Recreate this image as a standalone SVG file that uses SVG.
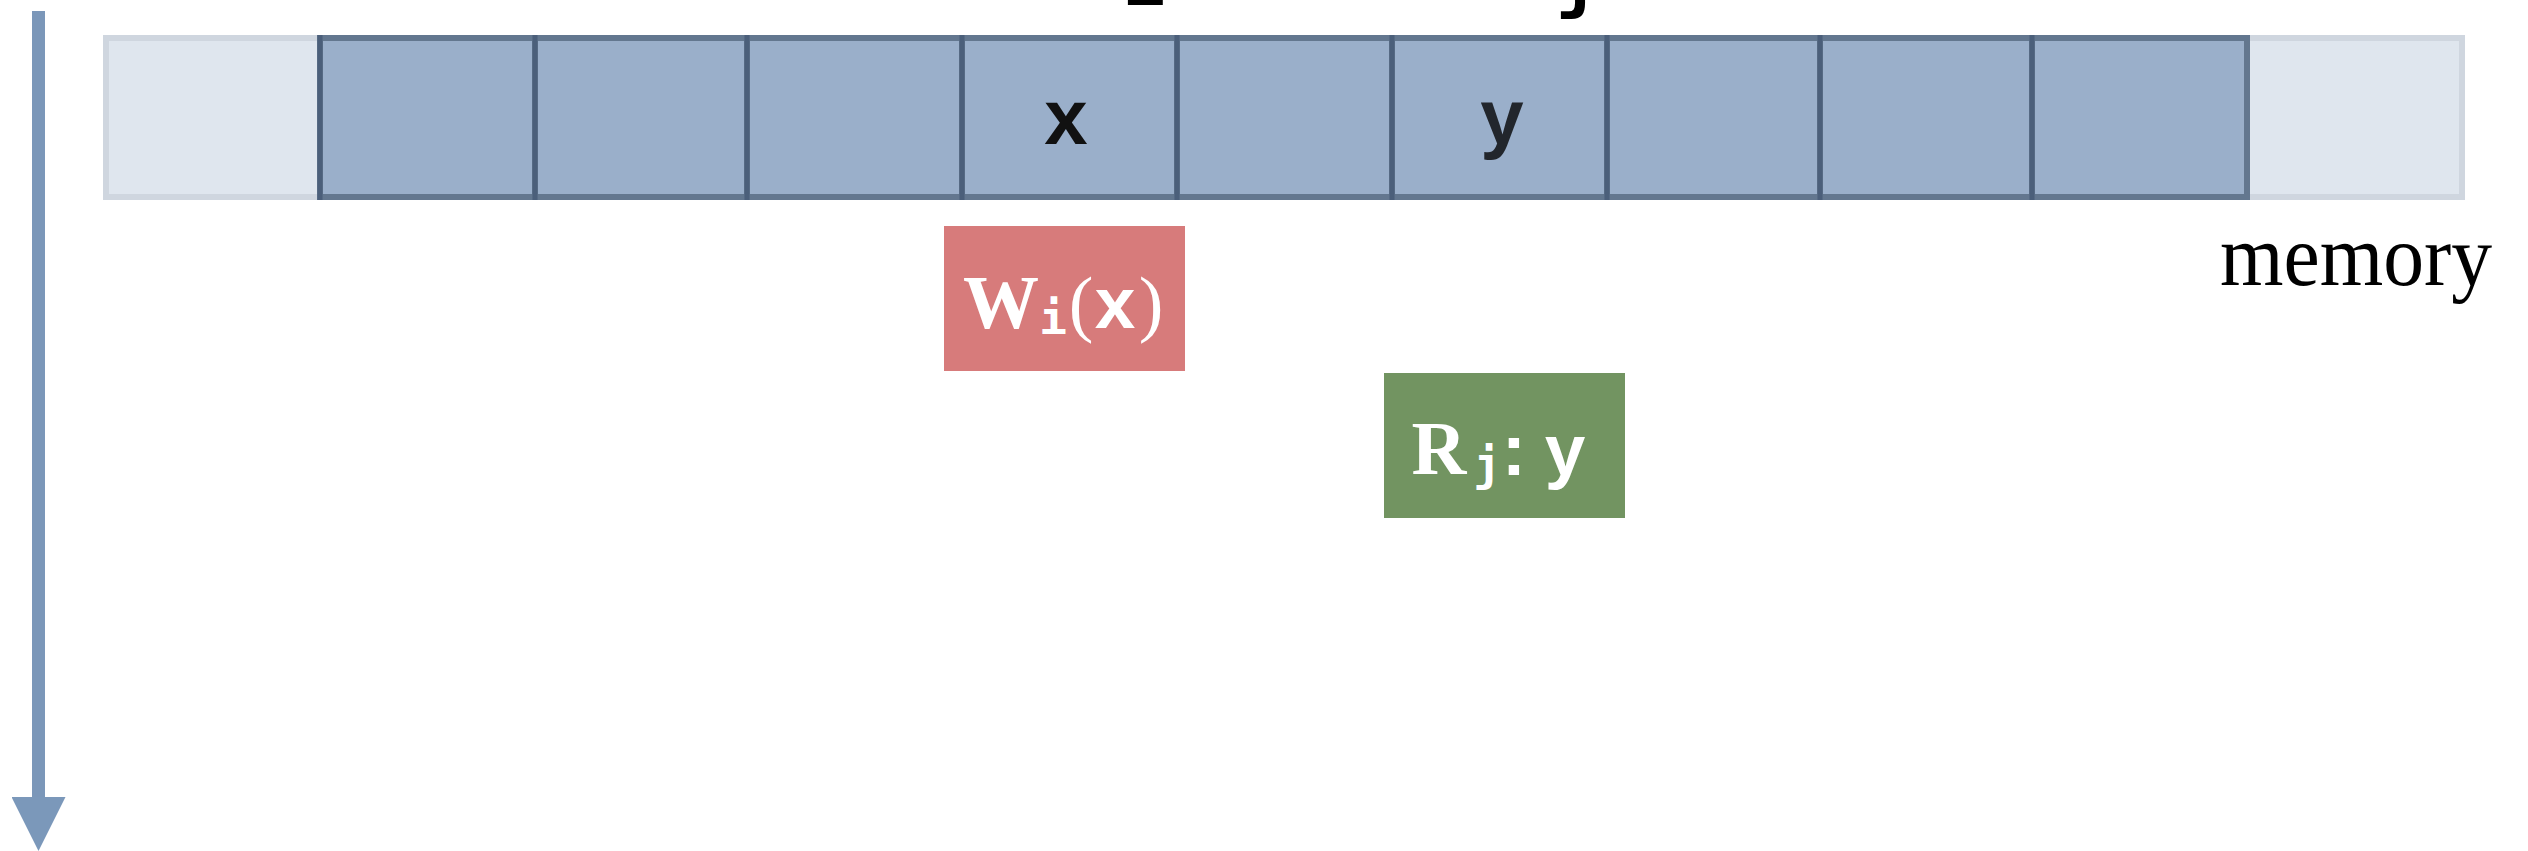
<svg xmlns="http://www.w3.org/2000/svg" width="2528" height="851" viewBox="0 0 2528 851">
  <style>
    .cell-light { fill: #dfe6ee; stroke: #cfd6df; stroke-width: 6; }
    .cell { fill: #9aafca; stroke: #63778f; stroke-width: 6; }
    .div { stroke: #4b5f7a; stroke-width: 5; }
    .cellText { font-family: "Liberation Sans", Arial, sans-serif; font-weight: bold; font-size: 78px; text-anchor: middle; }
    .serif { font-family: "Liberation Serif", "Times New Roman", serif; }
    .serifB { font-family: "Liberation Serif", "Times New Roman", serif; font-weight: bold; }
    .mono { font-family: "DejaVu Sans Mono", "Liberation Mono", monospace; font-weight: bold; }
    .sans { font-family: "Liberation Sans", Arial, sans-serif; font-weight: bold; }
    .label { fill: #ffffff; text-anchor: middle; }
  </style>
  <defs>
    <marker id="arrowHead" markerUnits="userSpaceOnUse" markerWidth="54" markerHeight="54" refX="0" refY="27" orient="auto">
      <path d="M0,0 L54,27 L0,54 Z" fill="#7b98ba"/>
    </marker>
  </defs>
  <rect width="2528" height="851" fill="#ffffff"/>

  <!-- cut-off labels at the top edge (as in the reference) -->
  <g id="top-fragments">
    <text x="1144" y="5" class="mono" font-size="70" text-anchor="middle" fill="#000">i</text>
    <text x="1577" y="5" class="mono" font-size="70" text-anchor="middle" fill="#000">j</text>
  </g>

  <g id="connectors">
    <line x1="38.5" y1="11" x2="38.5" y2="797" stroke="#7b97b9" stroke-width="13" marker-end="url(#arrowHead)"/>
  </g>

  <g id="memory">
    <g id="cell-0"><rect class="cell-light" x="106" y="38" width="214" height="159"/></g>
    <g id="cell-10"><rect class="cell-light" x="2247" y="38" width="215" height="159"/></g>
    <g id="cell-1"><rect class="cell" x="320" y="38" width="215" height="159"/></g>
    <g id="cell-2"><rect class="cell" x="535" y="38" width="212" height="159"/></g>
    <g id="cell-3"><rect class="cell" x="747" y="38" width="215" height="159"/></g>
    <g id="cell-4"><rect class="cell" x="962" y="38" width="215" height="159"/>
      <text class="cellText" x="1066" y="144" fill="#111111">x</text></g>
    <g id="cell-5"><rect class="cell" x="1177" y="38" width="215" height="159"/></g>
    <g id="cell-6"><rect class="cell" x="1392" y="38" width="215" height="159"/>
      <text class="cellText" x="1502" y="144" fill="#22262c">y</text></g>
    <g id="cell-7"><rect class="cell" x="1607" y="38" width="213" height="159"/></g>
    <g id="cell-8"><rect class="cell" x="1820" y="38" width="212" height="159"/></g>
    <g id="cell-9"><rect class="cell" x="2032" y="38" width="215" height="159"/></g>
    <g id="dividers">
      <line class="div" x1="320" y1="35" x2="320" y2="200"/>
      <line class="div" x1="535" y1="35" x2="535" y2="200"/>
      <line class="div" x1="747" y1="35" x2="747" y2="200"/>
      <line class="div" x1="962" y1="35" x2="962" y2="200"/>
      <line class="div" x1="1177" y1="35" x2="1177" y2="200"/>
      <line class="div" x1="1392" y1="35" x2="1392" y2="200"/>
      <line class="div" x1="1607" y1="35" x2="1607" y2="200"/>
      <line class="div" x1="1820" y1="35" x2="1820" y2="200"/>
      <line class="div" x1="2032" y1="35" x2="2032" y2="200"/>
    </g>
  </g>

  <g id="memory-label">
    <text x="2220" y="285" class="serif" font-size="86" textLength="272" lengthAdjust="spacingAndGlyphs" fill="#000">memory</text>
  </g>

  <g id="write-op">
    <rect x="944" y="226" width="241" height="145" fill="#d77b7b"/>
    <text class="label" y="328">
      <tspan class="serifB" x="1003" font-size="76">W</tspan>
      <tspan class="mono" x="1055" y="334" font-size="46">i</tspan>
      <tspan class="serif" x="1083" y="328" font-size="74">(</tspan>
      <tspan class="sans" x="1117" font-size="73">x</tspan>
      <tspan class="serif" x="1151" font-size="74">)</tspan>
    </text>
  </g>

  <g id="read-op">
    <rect x="1384" y="373" width="241" height="145" fill="#729461"/>
    <text class="label" y="474">
      <tspan class="serifB" x="1441" font-size="76">R</tspan>
      <tspan class="mono" x="1489" y="480" font-size="46">j</tspan>
      <tspan class="sans" x="1516" y="475" font-size="73">:</tspan>
      <tspan class="sans" x="1565" font-size="73">y</tspan>
    </text>
  </g>
</svg>
